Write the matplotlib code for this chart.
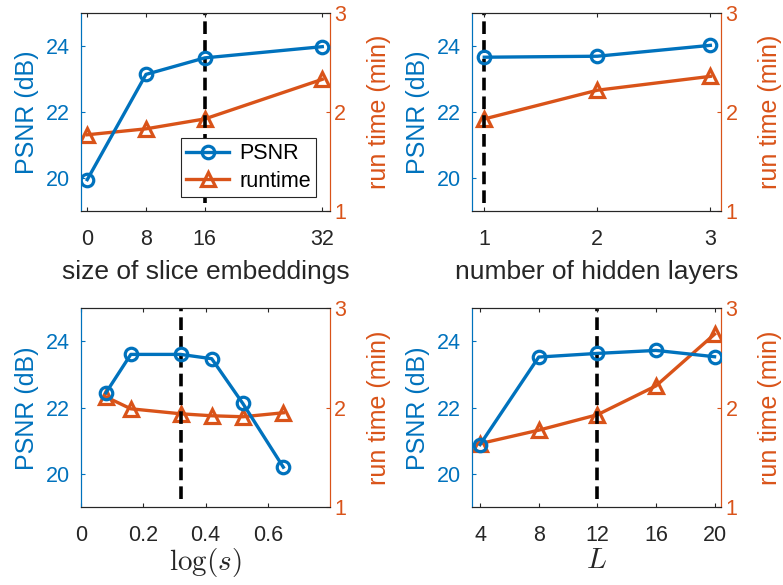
import matplotlib
matplotlib.use('Agg')
import matplotlib.pyplot as plt

plt.rcParams['font.family'] = ['Liberation Sans', 'DejaVu Sans']
plt.rcParams['mathtext.fontset'] = 'cm'

BLUE = '#0072BD'
ORANGE = '#D95319'
GRAY = '#262626'

# panel 1: size of slice embeddings
emb_x = [0, 8, 16, 32]
emb_psnr = [19.95, 23.14, 23.64, 23.98]
emb_time = [1.77, 1.83, 1.93, 2.33]

# panel 2: number of hidden layers
lay_x = [1, 2, 3]
lay_psnr = [23.66, 23.69, 24.02]
lay_time = [1.93, 2.22, 2.36]

# panel 3: log(s)
s_x = [0.08, 0.16, 0.32, 0.42, 0.52, 0.65]
s_psnr = [22.45, 23.61, 23.61, 23.48, 22.13, 20.21]
s_time = [2.11, 1.99, 1.94, 1.92, 1.91, 1.95]

# panel 4: L
L_x = [4, 8, 12, 16, 20]
L_psnr = [20.89, 23.53, 23.64, 23.73, 23.54]
L_time = [1.64, 1.775, 1.93, 2.22, 2.74]

# chosen setting (dashed line)
chosen = [16, 1, 0.32, 12]

panels = [
    (emb_x, emb_psnr, emb_time, 'size of slice embeddings', (-0.85, 33.05), [0, 8, 16, 32], ['0', '8', '16', '32']),
    (lay_x, lay_psnr, lay_time, 'number of hidden layers', (0.894, 3.097), [1, 2, 3], ['1', '2', '3']),
    (s_x, s_psnr, s_time, r'$\log(s)$', (0, 0.8), [0, 0.2, 0.4, 0.6], ['0', '0.2', '0.4', '0.6']),
    (L_x, L_psnr, L_time, r'$L$', (3.47, 20.46), [4, 8, 12, 16, 20], ['4', '8', '12', '16', '20']),
]

W, H = 783, 585
fig = plt.figure(figsize=(W / 100, H / 100), dpi=100)
cols = [81, 472.3]                       # left edge of each column, px
rows = [(13, 211), (308.3, 507.3)]       # top/bottom of each row, px

TICK_FS = 15.5
LAB_FS = 19

for i, (x, p, t, xlab, xlim, xt, xtl) in enumerate(panels):
    c = cols[i % 2]
    top, bot = rows[i // 2]
    ax = fig.add_axes([c / W, 1 - bot / H, 249 / W, (bot - top) / H])
    ax2 = ax.twinx()
    ax.set_zorder(ax2.get_zorder() + 1)
    ax.patch.set_visible(False)

    ax.plot([chosen[i], chosen[i]], [19.25, 25], '--', color='black', lw=2.6, dashes=(3.5, 1.7), zorder=1)
    l1, = ax.plot(x, p, '-o', color=BLUE, lw=2.4, ms=9, mfc='none', mew=2.3, label='PSNR', zorder=3)
    l2, = ax2.plot(x, t, '-^', color=ORANGE, lw=2.4, ms=10.5, mfc='none', mew=2.3, label='runtime')

    ax.set_xlim(*xlim)
    ax.set_ylim(19, 25)
    ax2.set_ylim(1, 3)
    ax.set_xticks(xt)
    ax.set_xticklabels(xtl)
    ax.set_yticks([20, 22, 24])
    ax2.set_yticks([1, 2, 3])

    ax.tick_params(axis='x', direction='in', length=3, width=0.8, color=GRAY,
                   labelcolor=GRAY, labelsize=TICK_FS, top=True, pad=13)
    ax.tick_params(axis='y', direction='in', length=3, width=0.8, color=BLUE,
                   labelcolor=BLUE, labelsize=TICK_FS, pad=8)
    ax2.tick_params(axis='y', direction='in', length=3, width=0.8, color=ORANGE,
                    labelcolor=ORANGE, labelsize=TICK_FS, pad=3)

    for a in (ax, ax2):
        for s in a.spines.values():
            s.set_linewidth(0.8)
        a.spines['top'].set_color(GRAY)
        a.spines['bottom'].set_color(GRAY)
        a.spines['left'].set_color(BLUE)
        a.spines['right'].set_color(ORANGE)

    ax.set_ylabel('PSNR (dB)', color=BLUE, fontsize=18, labelpad=5)
    ax2.set_ylabel('run time (min)', color=ORANGE, fontsize=18, labelpad=15)
    if xlab.startswith('$'):
        ax.set_xlabel(xlab, color=GRAY, fontsize=21, labelpad=0)
    else:
        ax.set_xlabel(xlab, color=GRAY, fontsize=LAB_FS, labelpad=7)

    if i == 0:
        leg = ax.legend(handles=[l1, l2], loc='lower right', bbox_to_anchor=(0.944, 0.07),
                        borderaxespad=0, fontsize=TICK_FS, frameon=True, fancybox=False,
                        framealpha=1, edgecolor=GRAY, handlelength=2.0, handletextpad=0.45,
                        borderpad=0.25, labelspacing=0.3)
        leg.get_frame().set_linewidth(0.8)
        leg.set_zorder(5)

fig.savefig('out.png', dpi=100)
